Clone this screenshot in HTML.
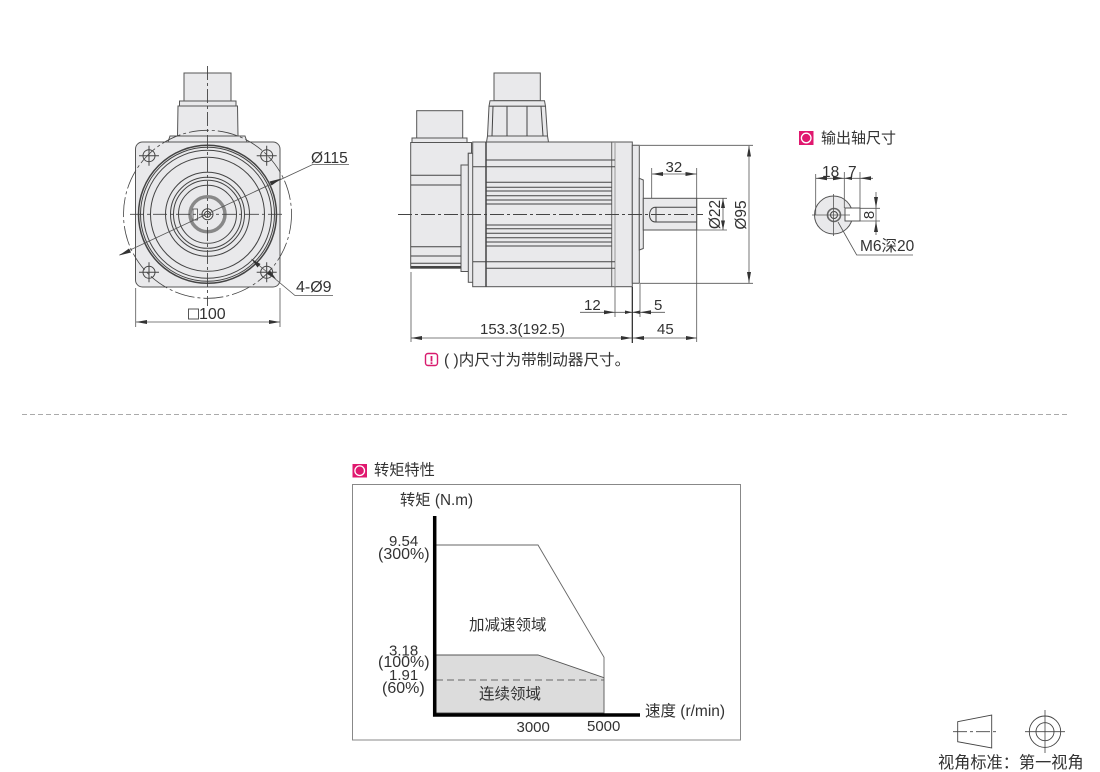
<!DOCTYPE html>
<html><head><meta charset="utf-8"><style>
html,body{margin:0;padding:0;background:#fff;width:1100px;height:772px;overflow:hidden}
svg{display:block}
text{font-family:"Liberation Sans","Noto Sans CJK SC",sans-serif;fill:#333}
.l{stroke:#444;stroke-width:1;fill:none}
.b{stroke:#444;stroke-width:1.500;fill:none}
.d{stroke:#555;stroke-width:.8;fill:none}
.c{stroke:#444;stroke-width:.9;fill:none;stroke-dasharray:14 3 3 3}
.f{fill:#e9e9eb;stroke:#555;stroke-width:1}
.a{fill:#333;stroke:none}
</style></head><body>
<svg width="1100" height="772" viewBox="0 0 1100 772" font-size="15" xmlns="http://www.w3.org/2000/svg">
<rect width="1100" height="772" fill="#fff"/>

<!-- Front view -->
<g>
<rect class="f" x="184" y="73" width="47" height="28"/>
<rect class="f" x="179.500" y="101" width="56.500" height="5"/>
<path class="f" d="M178 106H237.500L238 136H177.500Z"/>
<path class="f" d="M168 142L170 136H245L247 142Z"/>
<rect class="f" x="135.500" y="142" width="144.500" height="145" rx="7" stroke-width="1.200"/>
<circle cx="207.500" cy="214.300" r="69" class="b"/>
<circle cx="207.500" cy="214.300" r="67" class="l"/>
<circle cx="207.500" cy="214.300" r="64" class="l"/>
<circle cx="207.500" cy="214.300" r="57" class="l"/>
<circle cx="207.500" cy="214.300" r="42" class="l"/>
<circle cx="207.500" cy="214.300" r="37" class="l"/>
<circle cx="207.500" cy="214.300" r="34" class="l"/>
<circle cx="207.500" cy="214.300" r="29" class="l"/>
<circle cx="207.500" cy="214.300" r="17.500" fill="none" stroke="#888" stroke-width="3.500"/>
<circle cx="207.500" cy="214.300" r="5.500" fill="#f4f4f4" stroke="#444"/>
<circle cx="207.500" cy="214.300" r="3" class="l"/>
<rect x="193" y="209" width="4.500" height="11" fill="#f4f4f4" stroke="#444" stroke-width=".8"/>
<circle cx="207.500" cy="214.300" r="84" fill="none" stroke="#444" stroke-width=".8" stroke-dasharray="20 3 3 3"/>
<g class="l">
<circle cx="149" cy="155.700" r="6"/><circle cx="266.700" cy="155.700" r="6"/>
<circle cx="149" cy="272.300" r="6"/><circle cx="266.700" cy="272.300" r="6"/>
<path d="M139 155.700H159M149 145.700V165.700M256.700 155.700H276.700M266.700 145.700V165.700M139 272.300H159M149 262.300V282.300M256.700 272.300H276.700M266.700 262.300V282.300"/>
</g>
<path class="c" d="M207.500 66V306" stroke-dasharray="16 3 3 3"/>
<path class="c" d="M130 214.300H284" stroke-dasharray="16 3 3 3"/>
<!-- Ø115 leader -->
<path class="d" d="M119.500 255L312.700 164.500H349"/>
<path class="a" d="M119 255.500L129 248.500L131 252.500Z"/>
<path class="a" d="M281.500 178.500L271.500 185.500L269.500 181.500Z"/>
<text x="311" y="163" font-size="15.500">Ø115</text>
<!-- 4-Ø9 -->
<path class="d" d="M251.500 259L295 295.500H333"/>
<path class="a" d="M251.500 259L260.500 264L257.500 267.500Z"/>
<path class="a" d="M276 279L267 274L270 270.500Z"/>
<text x="296" y="292" font-size="16">4-Ø9</text>
<!-- □100 -->
<path class="d" d="M135.700 288V327M280 288V327M136 322H280"/>
<path class="a" d="M136 322L147 320V324ZM280 322L269 320V324Z"/>
<rect x="188.500" y="309" width="10" height="10" fill="none" stroke="#444" stroke-width=".9"/>
<text x="199" y="319" font-size="16">100</text>
</g>

<!-- Side view -->
<g>
<rect class="f" x="416.700" y="110.700" width="46" height="27.300"/>
<rect class="f" x="412" y="138" width="55" height="4.500"/>
<path class="f" d="M410.700 142.500H471.500V153.300H468.300V165H461V268.300H410.700Z"/>
<rect class="f" x="461" y="165" width="7.500" height="106.500"/>
<rect class="f" x="468.300" y="153.300" width="5" height="129"/>
<rect class="f" x="472.700" y="142" width="159.600" height="144.700"/>
<rect class="f" x="494" y="73" width="46.300" height="27.700"/>
<path class="f" d="M490 100.700H544.500L545.500 106.300H489Z"/>
<path class="f" d="M489 106.300H545.500L547.500 136H487.500Z"/>
<path class="f" d="M487.500 136H547.500L548.500 142H486.500Z"/>
<path class="l" d="M493 106.500L492 136M507 106.500V136M527 106.500V136M541 106.500L543 136"/>
<path class="f" d="M632.300 145.300H639.300V283.300H632.300Z"/>
<path class="f" d="M639.300 178.300L643.300 180V248.500L639.300 250Z"/>
<rect class="f" x="643.300" y="198.300" width="53.400" height="31.700"/>
<path class="l" d="M696.700 207.300H655.500C651 207.300 649.500 212 649.500 214.700C649.500 218 651 222 655.500 222H696.700M656 207.300V222"/>
<path class="b" d="M486 142V286.700" stroke-width="1.800"/>
<path d="M611.700 142V286.700" stroke="#666" stroke-width="1" fill="none"/>
<path d="M615 142V286.700" stroke="#999" stroke-width="1" fill="none"/>
<g class="l">
<path d="M410.700 175.300H461M410.700 185H461M410.700 246.700H461M410.700 256H461M410.700 263.300H461"/>
<path d="M473 166.700H486M473 261.700H486"/>
<path d="M486 160H615M486 166.700H615M486 182.300H611.700M486 187.300H611.700M486 191H611.700M486 195.700H611.700M486 200H611.700M486 204H611.700M486 225H611.700M486 228.700H611.700M486 233.300H611.700M486 237.700H611.700M486 242H611.700M486 246H611.700M486 261.700H615M486 268.300H615"/>
</g>
<path d="M410.700 267H461" stroke="#444" stroke-width="2"/>
<path class="c" d="M398 214.500H703"/>
<!-- dims -->
<g class="d">
<path d="M640 145.300H753M640 283.300H753M749 146V283"/>
<path d="M651.700 168V198M651.700 174H696.700M696.700 168V342"/>
<path d="M697 198.300H727M697 230H727M723 198.300V230"/>
<path d="M615 287V317M640 284V317M580 312.300H665"/>
<path d="M411 272V342M411 338H697"/>
</g>
<path d="M632.300 287V343" stroke="#222" stroke-width="1.200"/>
<g class="a">
<path d="M749 145.500L747 156.500H751ZM749 283L747 272H751Z"/>
<path d="M652 174L663 172V176ZM696.500 174L685.500 172V176Z"/>
<path d="M723 198.500L721 208H725ZM723 230L721 220.500H725Z"/>
<path d="M615 312.300L604 310.300V314.300ZM632.300 312.300L640 314V310.500ZM640 312.300L651 310.300V314.300ZM632.300 312.300L625 310.500V314Z"/>
<path d="M411 338L422 336V340ZM632 338L621 336V340ZM633 338L644 336V340ZM697 338L686 336V340Z"/>
</g>
<text x="665.500" y="172" font-size="15">32</text>
<text transform="translate(720,214.500) rotate(-90)" text-anchor="middle" font-size="15.500">Ø22</text>
<text transform="translate(746,215) rotate(-90)" text-anchor="middle" font-size="15.500">Ø95</text>
<text x="584" y="310" font-size="15">12</text>
<text x="654" y="310" font-size="15">5</text>
<text x="480" y="334" textLength="85" lengthAdjust="spacingAndGlyphs" font-size="15">153.3(192.5)</text>
<text x="657" y="334" font-size="15">45</text>
<rect x="425.500" y="353.500" width="12" height="12" rx="2.500" fill="#fff" stroke="#d81b6e" stroke-width="1.400"/>
<path d="M431.500 356V361.500M431.500 362.300V364" stroke="#d81b6e" stroke-width="1.800"/>
<text x="444" y="365" font-size="15.600">( )内尺寸为带制动器尺寸。</text>
</g>

<!-- Output shaft -->
<g>
<rect x="799" y="131" width="14.500" height="14" fill="#e0186f"/>
<circle cx="806.200" cy="138" r="4.800" fill="none" stroke="#fff" stroke-width="1.300"/>
<text x="821" y="143" font-size="15">输出轴尺寸</text>
<circle cx="833.500" cy="215" r="19" class="f"/>
<circle cx="834" cy="215" r="6.500" fill="none" stroke="#666" stroke-width="1.600"/>
<circle cx="834" cy="215" r="3.500" class="l"/>
<rect x="845" y="208" width="15" height="13" fill="#fff" stroke="#444" stroke-width=".9"/>
<g class="d">
<path d="M815.700 174V215M844.300 172V208M860 172V208M816 178.300H873"/>
<path d="M860 208.300H880M860 221H880M876 192V235M812 215H850M833.500 194V236"/>
<path d="M838 222L856.700 255H913"/>
</g>
<g class="a">
<path d="M816 178.300L827 176.300V180.300ZM844 178.300L833 176.300V180.300ZM844.500 178.300L852 176.500V180ZM860 178.300L871 176.300V180.300Z"/>
<path d="M876 208L874 197H878ZM876 221L874 232H878Z"/>
</g>
<text x="822" y="177" font-size="15.500">18</text>
<text x="848" y="177" font-size="15.500">7</text>
<text transform="translate(874,215) rotate(-90)" text-anchor="middle" font-size="15">8</text>
<text x="860" y="251" font-size="15.500">M6深20</text>
</g>

<!-- Separator -->
<path d="M22 414.500H1069" stroke="#aaa" stroke-width="1" stroke-dasharray="5 3" fill="none"/>

<!-- Chart -->
<g>
<rect x="352.500" y="464" width="14.500" height="13.500" fill="#e0186f"/>
<circle cx="359.700" cy="470.700" r="4.800" fill="none" stroke="#fff" stroke-width="1.300"/>
<text x="374" y="475" font-size="15.200">转矩特性</text>
<rect x="352.500" y="484.500" width="388" height="255.500" fill="#fff" stroke="#888" stroke-width="1"/>
<path d="M436 655H538L604 677.700V713H436Z" fill="#dcdcdc" stroke="#555" stroke-width=".9"/>
<path d="M436 545H538L604 657.300V713" fill="none" stroke="#666" stroke-width=".9"/>
<path d="M436 680H604" stroke="#666" stroke-width="1" stroke-dasharray="7 4" fill="none"/>
<path d="M434.700 516V715H640" fill="none" stroke="#000" stroke-width="3.500"/>
<text x="400" y="505" font-size="15.300">转矩 (N.m)</text>
<text x="389" y="546" font-size="15">9.54</text>
<text x="378" y="559" font-size="16">(300%)</text>
<text x="389" y="655.500" font-size="15">3.18</text>
<text x="378" y="667" font-size="16">(100%)</text>
<text x="389" y="680" font-size="15">1.91</text>
<text x="382" y="693" font-size="16">(60%)</text>
<text x="469" y="630" font-size="15.500">加减速领域</text>
<text x="479" y="699" font-size="15.500">连续领域</text>
<text x="516.500" y="732" font-size="15">3000</text>
<text x="587" y="731" font-size="15">5000</text>
<text x="645" y="716" font-size="15.500">速度 (r/min)</text>
</g>

<!-- Projection -->
<g>
<path d="M957.700 721.700L991.700 715V748L957.700 741.700Z" fill="#fff" stroke="#444" stroke-width=".9"/>
<path d="M953 731.700H997" stroke="#444" stroke-width=".8" stroke-dasharray="14 3 3 3" fill="none"/>
<circle cx="1045" cy="731.700" r="15.700" fill="#fff" stroke="#444" stroke-width=".9"/>
<circle cx="1045" cy="731.700" r="9" fill="none" stroke="#444" stroke-width=".9"/>
<path d="M1025 731.700H1065M1045 710V753" stroke="#444" stroke-width=".8" fill="none"/>
<text x="938" y="768" font-size="16.200">视角标准：第一视角</text>
</g>
</svg>
</body></html>
